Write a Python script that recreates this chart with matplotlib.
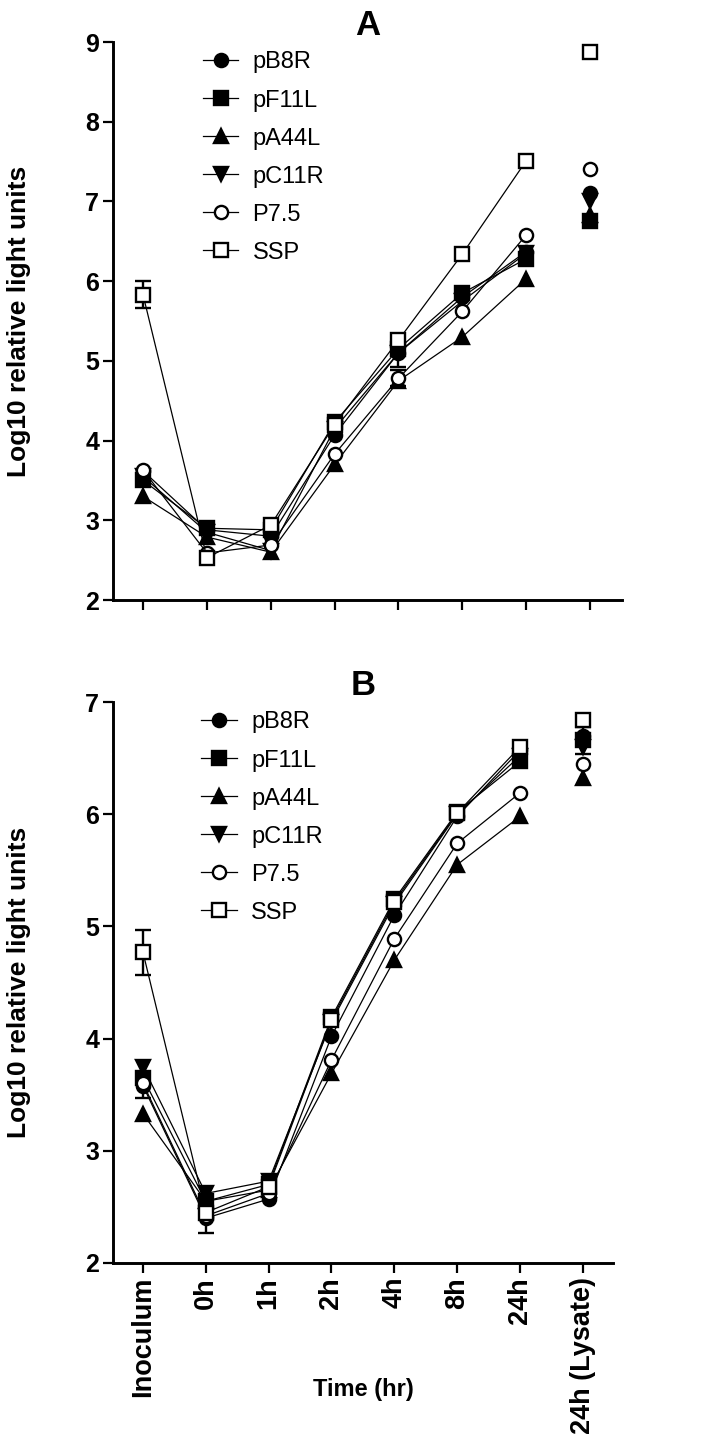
import numpy as np
import matplotlib
matplotlib.use("Agg")
import matplotlib.pyplot as plt
from matplotlib import font_manager

# Data
time_labels = ["Inoculum", "0h", "1h", "2h", "4h", "8h", "24h", "24h (Lysate)"]
series_names = ["pB8R", "pF11L", "pA44L", "pC11R", "P7.5", "SSP"]

# Panel A
a_pB8R = [3.62, 2.88, 2.80, 4.07, 5.10, 5.80, 6.37, 7.10]
a_pF11L = [3.50, 2.90, 2.88, 4.23, 5.15, 5.85, 6.28, 6.76]
a_pA44L = [3.30, 2.79, 2.60, 3.70, 4.75, 5.30, 6.03, 6.83]
a_pC11R = [3.55, 2.85, 2.62, 4.15, 5.10, 5.75, 6.35, 7.00]
a_P75 = [3.63, 2.59, 2.69, 3.83, 4.78, 5.62, 6.58, 7.41]
a_SSP = [5.83, 2.53, 2.94, 4.20, 5.26, 6.34, 7.51, 8.87]

# Panel B
b_pB8R = [3.58, 2.40, 2.57, 4.02, 5.10, 5.98, 6.57, 6.70]
b_pF11L = [3.65, 2.55, 2.70, 4.19, 5.24, 6.02, 6.47, 6.66]
b_pA44L = [3.33, 2.55, 2.65, 3.69, 4.70, 5.55, 5.98, 6.32]
b_pC11R = [3.75, 2.62, 2.73, 4.15, 5.20, 6.00, 6.52, 6.60]
b_P75 = [3.60, 2.42, 2.62, 3.81, 4.89, 5.74, 6.19, 6.45]
b_SSP = [4.77, 2.45, 2.68, 4.17, 5.22, 6.01, 6.60, 6.84]

# Error bars (SEM), 0 where no bar is visible
a_err_pC11R = [0, 0, 0, 0, 0.18, 0, 0, 0]
a_err_P75 = [0, 0, 0, 0, 0.10, 0, 0, 0]
a_err_SSP = [0.17, 0, 0, 0, 0, 0, 0, 0]
b_err_pB8R = [0.11, 0, 0, 0, 0, 0, 0, 0]
b_err_P75 = [0, 0.15, 0, 0, 0, 0, 0, 0]
b_err_pF11L = [0, 0, 0, 0, 0, 0, 0, 0.12]
b_err_SSP = [0.20, 0, 0, 0, 0, 0, 0, 0]

styles = {
    "pB8R": dict(marker="o", mfc="black"),
    "pF11L": dict(marker="s", mfc="black"),
    "pA44L": dict(marker="^", mfc="black"),
    "pC11R": dict(marker="v", mfc="black"),
    "P7.5": dict(marker="o", mfc="white"),
    "SSP": dict(marker="s", mfc="white"),
}

names = [f.name for f in font_manager.fontManager.ttflist]
FONT = "Liberation Sans" if "Liberation Sans" in names else "DejaVu Sans"
plt.rcParams["font.family"] = FONT


def draw_panel(ax, data, errs, title, ylim, xlim, show_xlabels, width_px):
    x = np.arange(len(time_labels))
    for name in series_names:
        y = np.array(data[name])
        st = styles[name]
        err = np.array(errs.get(name, [0] * len(y)), dtype=float)
        mask = err > 0
        if mask.any():
            ax.errorbar(x[mask], y[mask], yerr=err[mask], fmt="none", ecolor="black",
                        elinewidth=1.7, capsize=6, capthick=1.7, zorder=2)
        # connected time course (without lysate)
        ax.plot(x[:-1], y[:-1], color="black", lw=0.9, marker=st["marker"],
                mfc=st["mfc"], mec="black", mew=1.7, ms=9.5, label=name, zorder=3)
        # lysate, not connected
        ax.plot(x[-1:], y[-1:], ls="none", marker=st["marker"], mfc=st["mfc"],
                mec="black", mew=1.7, ms=9.5, zorder=3)

    ax.set_xlim(*xlim)
    ax.set_ylim(*ylim)
    ax.set_yticks(np.arange(ylim[0], ylim[1] + 1))
    ax.set_xticks(x)
    for s in ["top", "right"]:
        ax.spines[s].set_visible(False)
    for s in ["left", "bottom"]:
        ax.spines[s].set_linewidth(2.1)
    ax.tick_params(direction="out", length=7, width=1.6, labelsize=18, pad=3)
    for lab in ax.get_yticklabels():
        lab.set_fontweight("bold")
    if show_xlabels:
        ax.set_xticklabels(time_labels, rotation=90, fontsize=19.5, fontweight="bold")
        ax.set_xlabel("Time (hr)", fontsize=17, fontweight="bold")
        ax.xaxis.set_label_coords(0.5, -0.205)
    else:
        ax.set_xticklabels([])
    ax.set_ylabel("Log10 relative light units", fontsize=19, fontweight="bold")
    ax.yaxis.set_label_coords(-82 / width_px, 0.5)
    ax.set_title(title, fontsize=25, fontweight="bold", pad=5)
    ax.legend(loc="upper left", bbox_to_anchor=(0.158, 1.0), frameon=False,
              fontsize=17, handlelength=1.5, handletextpad=0.6, labelspacing=0.68,
              borderaxespad=0)


fig = plt.figure(figsize=(7.1, 14.47), dpi=100)

axA = fig.add_axes([113 / 710, 1 - 600 / 1447, 509 / 710, 558 / 1447])
data_a = {"pB8R": a_pB8R, "pF11L": a_pF11L, "pA44L": a_pA44L, "pC11R": a_pC11R,
          "P7.5": a_P75, "SSP": a_SSP}
errs_a = {"pC11R": a_err_pC11R, "P7.5": a_err_P75, "SSP": a_err_SSP}
draw_panel(axA, data_a, errs_a, "A", (2, 9), (-0.47, 7.5), False, 509)

axB = fig.add_axes([113 / 710, 1 - 1263 / 1447, 500 / 710, 561 / 1447])
data_b = {"pB8R": b_pB8R, "pF11L": b_pF11L, "pA44L": b_pA44L, "pC11R": b_pC11R,
          "P7.5": b_P75, "SSP": b_SSP}
errs_b = {"pB8R": b_err_pB8R, "P7.5": b_err_P75, "pF11L": b_err_pF11L, "SSP": b_err_SSP}
draw_panel(axB, data_b, errs_b, "B", (2, 7), (-0.477, 7.48), True, 500)

fig.savefig("out.png", dpi=100)
